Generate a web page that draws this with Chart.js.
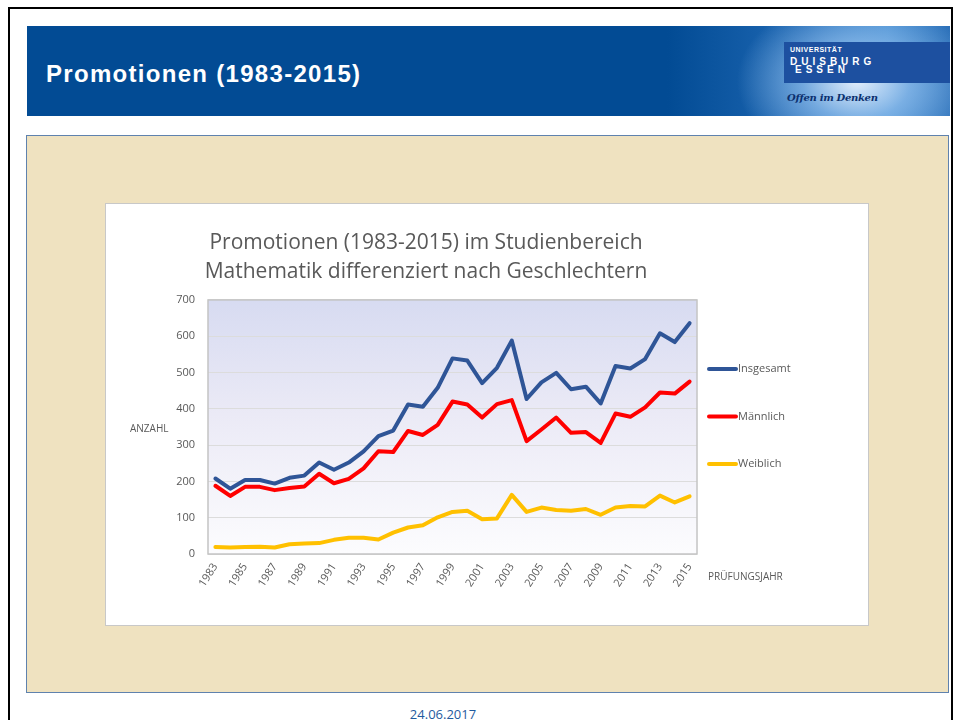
<!DOCTYPE html>
<html lang="de">
<head>
<meta charset="utf-8">
<script src="https://cdn.jsdelivr.net/npm/chart.js@4.4.1/dist/chart.umd.min.js"></script>
<style>
  body { margin: 0; width: 955px; height: 720px; position: relative; overflow: hidden; background: #fff; }
  #frame { position: absolute; left: 8px; top: 7px; width: 941px; height: 730px; border: 2px solid #000; }
  #header {
    position: absolute; left: 27px; top: 26px; width: 923px; height: 90px;
    background:
      radial-gradient(ellipse 120px 85px at 830px 55px, rgba(235,244,255,0.95) 0, rgba(150,195,240,0.7) 45%, rgba(40,110,190,0) 100%),
      linear-gradient(90deg, #024b94 0, #024b94 640px, #1f68b4 780px, #3c86cc 860px, #2a6fb8 923px);
  }
  #header h1 {
    position: absolute; left: 19px; top: 34px; margin: 0;
    font: bold 24px "Liberation Sans", Arial, sans-serif; color: #fff; letter-spacing: 1.3px;
  }
  #logo { position: absolute; left: 757px; top: 16px; width: 166px; height: 41px; background: #1d50a0; color: #fff; font-family: "Liberation Sans", Arial, sans-serif; font-weight: bold; }
  #logo .u { position: absolute; left: 6px; top: 4px; font-size: 7px; letter-spacing: 0.5px; }
  #logo .d { position: absolute; left: 6px; top: 14px; font-size: 10px; letter-spacing: 4px; }
  #logo .e { position: absolute; left: 11px; top: 22px; font-size: 10px; letter-spacing: 4px; }
  #motto { position: absolute; left: 760px; top: 66px; font: italic bold 10px "DejaVu Serif", serif; color: #0b2f6e; letter-spacing: -0.3px; }
  #panel { position: absolute; left: 26px; top: 135px; width: 921px; height: 556px; background: #efe2c0; border: 1px solid #5f82ae; }
  #box { position: absolute; left: 105px; top: 203px; width: 762px; height: 421px; background: #fff; border: 1px solid #c8c8c8; }
  #chart { position: absolute; left: 51px; top: 204px; }
  #date { position: absolute; left: 0; width: 886px; top: 705px; text-align: center; font: 13px "Open Sans", sans-serif; color: #1f5a9e; }
</style>
</head>
<body>
<div id="frame"></div>
<div id="header">
  <h1>Promotionen (1983-2015)</h1>
  <div id="logo"><span class="u">UNIVERSITÄT</span><span class="d">DUISBURG</span><span class="e">ESSEN</span></div>
  <div id="motto">Offen im Denken</div>
</div>
<div id="panel"></div>
<div id="box"></div>
<canvas id="chart" width="750" height="421"></canvas>
<div id="date">24.06.2017</div>
<script>
const years = ['1983','1984','1985','1986','1987','1988','1989','1990','1991','1992','1993',
  '1994','1995','1996','1997','1998','1999','2000','2001','2002','2003','2004','2005','2006',
  '2007','2008','2009','2010','2011','2012','2013','2014','2015'];
const insgesamt = [208,180,204,204,194,210,216,252,232,252,283,325,340,412,406,458,539,533,471,513,588,427,473,499,454,461,415,518,511,537,608,584,636];
const maennlich = [188,160,185,185,176,182,186,221,195,207,236,283,281,339,328,356,420,412,376,413,424,311,343,376,334,336,306,387,378,404,445,442,475];
const weiblich = [19,18,19,20,18,27,29,30,39,45,45,40,59,73,79,101,116,119,96,98,163,116,128,121,119,124,108,128,132,131,161,142,159];
const seriesNames = ['Insgesamt', 'Männlich', 'Weiblich'];
const titleLines = ['Promotionen (1983-2015) im Studienbereich', 'Mathematik differenziert nach Geschlechtern'];

const FONT = 'Open Sans';
const GREY = '#595959';

// plot background, frame, side legend and the two axis captions
const plotDecor = {
  id: 'plotDecor',
  beforeDraw(chart) {
    const { ctx, chartArea: a } = chart;
    const g = ctx.createLinearGradient(0, a.top, 0, a.bottom);
    g.addColorStop(0, '#d7dbf1');
    g.addColorStop(0.45, '#ebeaf6');
    g.addColorStop(1, '#fcfcfe');
    ctx.save();
    ctx.fillStyle = g;
    ctx.fillRect(a.left, a.top, a.right - a.left, a.bottom - a.top);
    ctx.restore();
  },
  afterDraw(chart) {
    const { ctx, chartArea: a } = chart;
    ctx.save();
    ctx.strokeStyle = '#c4c4c4';
    ctx.lineWidth = 1.5;
    ctx.strokeRect(a.left, a.top, a.right - a.left, a.bottom - a.top);

    ctx.font = '11px "' + FONT + '"';
    ctx.textBaseline = 'middle';
    ctx.fillStyle = GREY;
    chart.data.datasets.forEach((ds, i) => {
      const y = a.top + 69 + i * 47.5;
      ctx.strokeStyle = ds.borderColor;
      ctx.lineWidth = 4;
      ctx.lineCap = 'round';
      ctx.beginPath();
      ctx.moveTo(a.right + 12, y);
      ctx.lineTo(a.right + 39, y);
      ctx.stroke();
      ctx.fillText(ds.label, a.right + 41, y);
    });

    ctx.font = '10px "' + FONT + '"';
    ctx.fillText('ANZAHL', a.left - 78, (a.top + a.bottom) / 2 + 2);
    ctx.fillText('PRÜFUNGSJAHR', a.right + 11, a.bottom + 23);
    ctx.restore();
  }
};

new Chart(document.getElementById('chart').getContext('2d'), {
  type: 'line',
  data: {
    labels: years,
    datasets: [
      { label: seriesNames[0], data: insgesamt, borderColor: '#2f5597' },
      { label: seriesNames[1], data: maennlich, borderColor: '#ff0000' },
      { label: seriesNames[2], data: weiblich, borderColor: '#ffc000' }
    ]
  },
  options: {
    responsive: false,
    animation: false,
    layout: { padding: { left: 104, right: 104, top: 0, bottom: 12 } },
    elements: {
      point: { radius: 0 },
      line: { tension: 0, borderWidth: 4, borderCapStyle: 'round', borderJoinStyle: 'round', fill: false }
    },
    plugins: {
      legend: { display: false },
      tooltip: { enabled: false },
      title: {
        display: true,
        text: titleLines,
        color: GREY,
        font: { family: FONT, size: 21, weight: 'normal', lineHeight: 1.38 },
        padding: { top: 25, bottom: 13 }
      }
    },
    scales: {
      x: {
        offset: true,
        grid: { display: false, drawTicks: false },
        border: { display: false },
        afterFit: s => { s.height = 59; },
        ticks: {
          autoSkip: false, minRotation: 57, maxRotation: 57, padding: 7,
          color: GREY, font: { family: FONT, size: 11 },
          callback: (v, i) => (i % 2 === 0 ? years[i] : null)
        }
      },
      y: {
        min: 0, max: 700,
        grid: { color: '#dcdcdc', drawTicks: false },
        border: { display: false },
        afterFit: s => { s.width = 53; },
        ticks: { stepSize: 100, padding: 13, color: GREY, font: { family: FONT, size: 11 } }
      }
    }
  },
  plugins: [plotDecor]
});
</script>
</body>
</html>
